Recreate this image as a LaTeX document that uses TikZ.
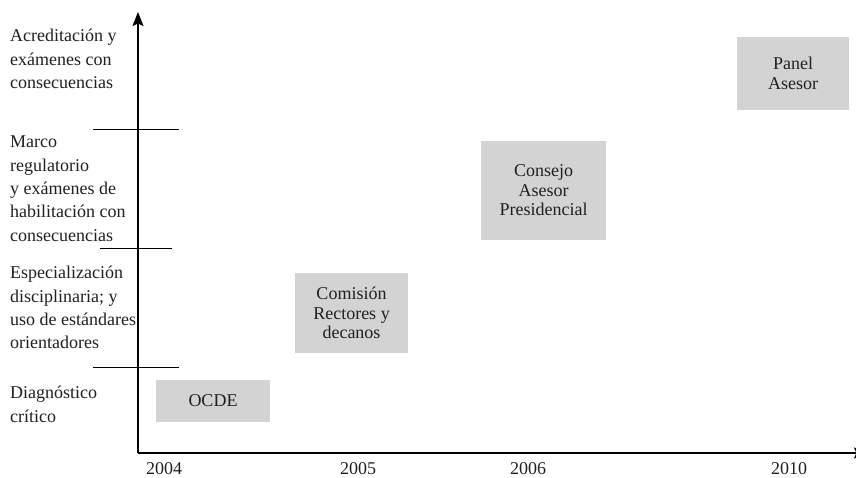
\documentclass[tikz,border=0pt]{standalone}
\usepackage{fontspec}
\setmainfont{Liberation Serif}
\usetikzlibrary{arrows.meta}
\definecolor{boxgray}{HTML}{D3D3D4}
\definecolor{ink}{HTML}{231F20}
\begin{document}
\begin{tikzpicture}[x=1pt,y=-1pt,
  lab/.style={anchor=north west,inner sep=0pt,align=left,font=\fontsize{18}{23.3}\selectfont,text=ink},
  yr/.style={anchor=base,inner sep=0pt,font=\fontsize{18}{22}\selectfont,text=ink},
  org/.style={fill=boxgray,inner sep=0pt,align=center,font=\fontsize{18}{19.5}\selectfont,text=ink},
  axis/.style={line width=1.8pt,draw=black},
  tick/.style={line width=0.9pt,draw=black}]
\useasboundingbox (0,0) rectangle (856,478);
% axes
\coordinate (O) at (138,453);
\coordinate (ytop) at (138,12);
\coordinate (xend) at (868,453);
\draw[axis,-{Stealth[length=14pt,width=11pt,inset=2.5pt]}] (O) -- (ytop);
\draw[axis,-{Stealth[length=14pt,width=11pt,inset=2.5pt]}] (O) -- (xend);
% ticks
\coordinate (t1a) at (93,129); \coordinate (t1b) at (179,129);
\coordinate (t2a) at (100,248); \coordinate (t2b) at (172,248);
\coordinate (t3a) at (93,367); \coordinate (t3b) at (179,367);
\draw[tick] (t1a) -- (t1b);
\draw[tick] (t2a) -- (t2b);
\draw[tick] (t3a) -- (t3b);
% left labels
\node[lab] (l1) at (10,29) {Acreditación y\\exámenes con\\consecuencias};
\node[lab] (l2) at (10,136) {Marco\\regulatorio\\y exámenes de\\habilitación con\\consecuencias};
\node[lab] (l3) at (10,266) {Especialización\\disciplinaria; y\\uso de estándares\\orientadores};
\node[lab] (l4) at (10,386) {Diagnóstico\\crítico};
% years
\node[yr] (y1) at (164,474) {2004};
\node[yr] (y2) at (358,474) {2005};
\node[yr] (y3) at (528,474) {2006};
\node[yr] (y4) at (789,474) {2010};
% boxes
\node[org,minimum width=114pt,minimum height=42pt] (ocde) at (213,401) {OCDE};
\node[org,minimum width=113pt,minimum height=80pt] (com) at (351.5,313) {Comisión\\Rectores y\\decanos};
\node[org,minimum width=125pt,minimum height=99pt] (cons) at (543.5,190.5) {Consejo\\Asesor\\Presidencial};
\node[org,minimum width=112pt,minimum height=73pt] (pan) at (793,73.5) {Panel\\Asesor};
\end{tikzpicture}
\end{document}
